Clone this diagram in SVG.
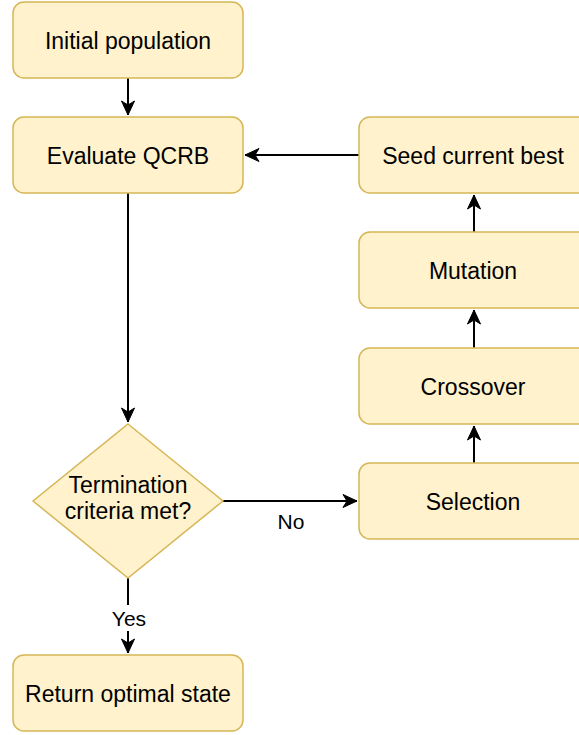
<svg xmlns="http://www.w3.org/2000/svg" width="579" height="735" viewBox="0 0 579 735">
<defs>
<marker id="arr" viewBox="0 0 16 16" refX="15" refY="8" markerWidth="16" markerHeight="16" markerUnits="userSpaceOnUse" orient="auto">
<path d="M1,1.5 L15,8 L1,14.5 L5,8 Z" fill="#000" stroke="#000" stroke-width="1"/>
</marker>
<style>
.n{fill:#fff2cc;stroke:#d6b656;stroke-width:1.5}
.t{font-family:"Liberation Sans",Arial,sans-serif;font-size:23px;fill:#000;text-anchor:middle;dominant-baseline:central}
.l{font-family:"Liberation Sans",Arial,sans-serif;font-size:21px;fill:#000;text-anchor:middle;dominant-baseline:central}
.e{fill:none;stroke:#000;stroke-width:2;marker-end:url(#arr)}
</style>
</defs>
<rect width="579" height="735" fill="#fff"/>
<g id="connectors">
<path class="e" d="M128,78 V115"/>
<path class="e" d="M359,155 H245"/>
<path class="e" d="M128,193 V422"/>
<path class="e" d="M223,501 H357"/>
<path class="e" d="M474,463 V426"/>
<path class="e" d="M474,348 V310"/>
<path class="e" d="M474,232 V195"/>
<path class="e" d="M128,578 V653"/>
<rect x="109" y="605" width="40" height="26" fill="#fff"/>
<text class="l" x="129" y="618">Yes</text>
<text class="l" x="291" y="521">No</text>
</g>
<g id="initial"><rect class="n" x="13" y="2" width="230" height="76" rx="11"/><text class="t" x="128" y="41">Initial population</text></g>
<g id="evaluate"><rect class="n" x="13" y="117" width="230" height="76" rx="11"/><text class="t" x="128" y="156">Evaluate QCRB</text></g>
<g id="seed"><rect class="n" x="359" y="117" width="230" height="76" rx="11"/><text class="t" x="473" y="156">Seed current best</text></g>
<g id="mutation"><rect class="n" x="359" y="232" width="230" height="76" rx="11"/><text class="t" x="473" y="271">Mutation</text></g>
<g id="crossover"><rect class="n" x="359" y="348" width="230" height="76" rx="11"/><text class="t" x="473" y="387">Crossover</text></g>
<g id="selection"><rect class="n" x="359" y="463" width="230" height="76" rx="11"/><text class="t" x="473" y="502">Selection</text></g>
<g id="termination"><path class="n" d="M128,424 L223,501 L128,578 L33,501 Z"/><text class="t" x="128" y="485">Termination</text><text class="t" x="128" y="511">criteria met?</text></g>
<g id="return"><rect class="n" x="13" y="655" width="230" height="76" rx="11"/><text class="t" x="128" y="694">Return optimal state</text></g>
</svg>
